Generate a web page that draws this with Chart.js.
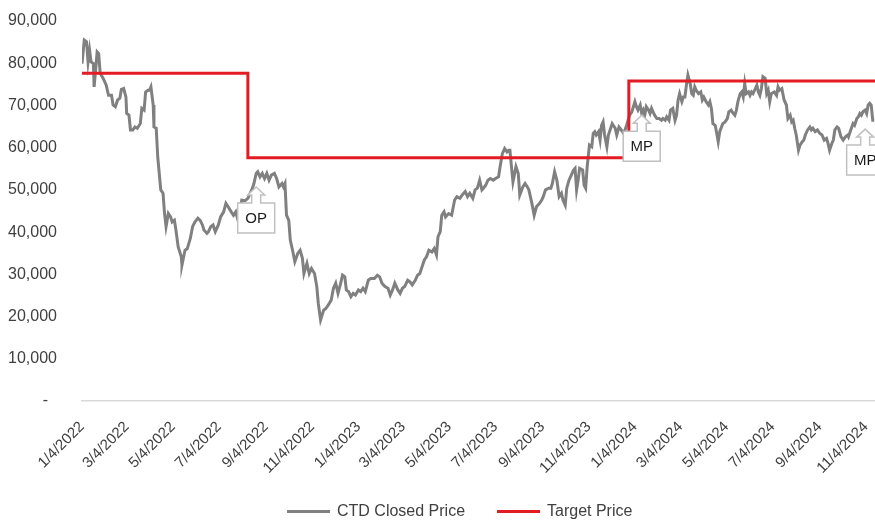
<!DOCTYPE html>
<html>
<head>
<meta charset="utf-8">
<script src="https://cdn.jsdelivr.net/npm/chart.js@4.4.1/dist/chart.umd.min.js"></script>
<style>
html,body{margin:0;padding:0;background:#ffffff;}
#wrap{width:875px;height:521px;position:relative;}
</style>
</head>
<body>
<div id="wrap"><canvas id="c" width="875" height="521"></canvas></div>
<script>
// ---------------- DATA ----------------
const startDate = '1/4/2022';            // day 0 of the x axis
const endDay = 1047;                     // last day shown (~11/16/2024)
const xTickLabels = ['1/4/2022','3/4/2022','5/4/2022','7/4/2022','9/4/2022','11/4/2022',
  '1/4/2023','3/4/2023','5/4/2023','7/4/2023','9/4/2023','11/4/2023',
  '1/4/2024','3/4/2024','5/4/2024','7/4/2024','9/4/2024','11/4/2024'];

// CTD closed price: days since 1/4/2022, price (VND)
const priceDays = [0,3,6,8,10,12,15,16,18,20,22,24,28,32,35,39,41,44,47,50,52,55,58,59,62,64,67,70,73,77,79,82,84,87,89,91,94,95,98,100,
104,107,109,111,114,117,119,122,124,127,131,132,136,139,143,146,149,153,156,159,161,165,167,170,173,176,180,183,187,190,
193,197,200,203,206,207,211,215,219,222,225,227,230,232,235,238,241,244,247,250,254,257,260,264,266,268,270,273,275,278,
281,285,288,291,293,297,300,303,307,310,312,315,319,322,325,329,332,335,338,341,344,347,349,352,355,358,361,365,368,371,
374,378,381,386,390,393,396,400,404,407,410,413,417,420,423,426,430,433,436,440,443,446,449,452,455,458,462,465,468,470,
473,475,478,480,484,488,492,495,499,502,506,509,512,516,519,522,525,528,530,533,536,539,543,546,550,552,555,558,561,563,
565,567,569,573,576,578,582,585,588,590,594,597,600,604,607,609,612,616,619,621,624,627,630,633,635,638,640,643,646,649,
651,653,655,657,661,663,665,667,670,673,675,677,679,682,684,686,688,690,693,695,698,700,704,706,709,712,715,717,719,721,
723,726,728,730,732,734,737,739,741,743,745,748,750,752,754,756,759,762,765,767,770,772,775,777,780,783,785,787,789,792,
794,796,798,800,803,805,807,809,811,814,817,819,821,824,827,829,831,833,836,838,840,842,846,849,852,854,857,860,862,864,
866,869,871,873,875,877,880,882,884,886,888,891,893,895,897,899,902,904,906,908,910,914,917,919,921,924,927,930,932,935,
937,939,941,943,946,948,951,953,955,958,961,963,965,968,971,974,977,980,983,985,987,990,992,994,997,999,1002,1005,1008,1011,
1012,1015,1018,1020,1023,1025,1027,1029,1031,1034,1036,1038,1040,1042,1044,1046];
const closedPrices = [79900,85500,85100,80300,83100,80300,79900,74400,78400,82700,82300,77600,76400,74800,72400,72400,70100,69700,71300,71700,73800,74000,72000,68100,67700,64200,64200,64900,64600,65700,69300,68900,73200,73600,73600,74400,70100,64900,64600,57800,
50000,49200,44400,41300,44400,43600,42400,42800,40500,36500,34200,32200,35700,36100,38500,41300,42400,43300,42800,41700,40500,39700,40100,41300,41700,40100,41700,43600,44800,46800,
46000,44800,44000,44800,42800,44400,47600,47400,48000,49200,50400,51500,53900,54300,53100,53900,52700,53900,52300,53500,53900,52700,50700,51500,50700,51500,44000,42800,38100,35700,
33000,35000,35700,33800,30200,32600,30200,31400,30200,27100,23100,19200,21500,21900,22700,23900,26700,27900,25500,27500,29800,29400,26300,25900,24700,25500,25100,26300,25900,26700,
25900,28600,29000,29000,29800,29400,27900,27100,26700,25100,26300,27900,26300,25500,26700,27100,28600,28200,27500,28600,29800,30200,31800,33400,34200,35700,35300,36100,34600,38900,
40100,44000,44800,43600,44400,44000,47600,48400,48000,48800,49600,48400,49200,48000,50000,50400,52300,50000,50400,51100,52300,52700,52300,52700,53100,55500,58600,59800,59000,59400,
59400,55500,51900,55500,53900,48800,50700,51500,50700,50000,46800,44000,46000,46800,47600,48400,50000,50400,50400,51500,54300,52300,48400,49200,47600,46400,50400,52300,53500,54700,
55100,50000,52300,55100,54700,51100,50400,55500,60600,60200,63400,63800,63000,63800,61800,65300,66100,63000,60200,63000,64600,65700,64600,63000,64900,64200,63400,64200,65300,66500,
67700,68500,69700,70900,69700,68900,70100,68100,68900,67700,69700,68900,68100,69300,68500,67700,66900,66900,66500,66900,66500,67300,66500,68900,69300,66500,67700,71300,72800,70900,
72000,72000,74800,77200,75200,72800,72400,74400,73600,72800,73200,71300,72000,70900,70100,70900,69300,65700,65300,63400,61400,63800,65700,66100,66900,68500,68900,68100,67700,68900,
70900,72800,73200,72000,75200,72800,73200,72400,73200,72800,73600,74800,73200,72400,74000,76800,76400,72800,73600,70900,72800,73200,72400,74400,73600,74000,71300,70100,66900,67700,
66100,66500,64600,63000,59400,60600,61400,61800,63000,64200,64900,64200,64600,63800,64200,63400,63000,61800,62200,61000,59400,61000,61800,64200,64900,64600,62600,61800,62600,63000,
62600,64200,65700,65300,66900,67300,68100,67700,68500,68900,68100,70100,70500,70100,66500,66500];

// Target price: day the target was set, target value
const targetDays = [0, 219, 722, 1047];
const targetPrices = [77600, 57600, 75800, 75800];

// Recommendation callouts: label, day, price pointed at
const calloutLabels = ['OP', 'MP', 'MP'];
const calloutDays = [230, 739, 1034];
const calloutPrices = [50700, 67700, 64400];

const seriesNames = ['CTD Closed Price', 'Target Price'];

// ---------------- HELPERS ----------------
function dayOf(label) {
  const p = label.split('/').map(Number);
  const s = startDate.split('/').map(Number);
  return Math.round((Date.UTC(p[2], p[0] - 1, p[1]) - Date.UTC(s[2], s[0] - 1, s[1])) / 86400000);
}
const REG = '"Liberation Sans", Arial, sans-serif';
const TEXT = '#404040';

const calloutPlugin = {
  id: 'callouts',
  afterDatasetsDraw(chart) {
    const ctx = chart.ctx, xs = chart.scales.x, ys = chart.scales.y;
    ctx.save();
    calloutLabels.forEach((lbl, i) => {
      const px = xs.getPixelForValue(calloutDays[i]);
      const py = ys.getPixelForValue(calloutPrices[i]);
      const hw = 18.5, head = 8.5, neck = 4.5;
      ctx.beginPath();
      ctx.moveTo(px, py);
      ctx.lineTo(px + head, py + 8);
      ctx.lineTo(px + neck, py + 8);
      ctx.lineTo(px + neck, py + 16);
      ctx.lineTo(px + hw, py + 16);
      ctx.lineTo(px + hw, py + 46);
      ctx.lineTo(px - hw, py + 46);
      ctx.lineTo(px - hw, py + 16);
      ctx.lineTo(px - neck, py + 16);
      ctx.lineTo(px - neck, py + 8);
      ctx.lineTo(px - head, py + 8);
      ctx.closePath();
      ctx.fillStyle = '#ffffff';
      ctx.fill();
      ctx.strokeStyle = '#c0c0c0';
      ctx.lineWidth = 1.5;
      ctx.stroke();
      ctx.fillStyle = '#1a1a1a';
      ctx.font = '15px ' + REG;
      ctx.textAlign = 'center';
      ctx.textBaseline = 'middle';
      ctx.fillText(lbl, px, py + 31.5);
    });
    ctx.restore();
  }
};

const legendPlugin = {
  id: 'bottomLegend',
  afterDraw(chart) {
    const ctx = chart.ctx;
    ctx.save();
    ctx.font = '16px ' + REG;
    ctx.textBaseline = 'middle';
    ctx.textAlign = 'left';
    let x = 287;
    const y = 511.5;
    chart.data.datasets.forEach(ds => {
      ctx.strokeStyle = ds.borderColor;
      ctx.lineWidth = 3;
      ctx.beginPath();
      ctx.moveTo(x, y);
      ctx.lineTo(x + 43, y);
      ctx.stroke();
      x += 50;
      ctx.fillStyle = TEXT;
      ctx.fillText(ds.label, x, y);
      x += ctx.measureText(ds.label).width + 32;
    });
    ctx.restore();
  }
};

new Chart(document.getElementById('c'), {
  type: 'line',
  data: {
    datasets: [
      {
        label: seriesNames[0],
        data: priceDays.map((d, i) => ({ x: d, y: closedPrices[i] })),
        borderColor: '#808080',
        backgroundColor: '#808080',
        borderWidth: 3,
        pointRadius: 0,
        tension: 0,
        order: 2
      },
      {
        label: seriesNames[1],
        data: targetDays.map((d, i) => ({ x: d, y: targetPrices[i] })),
        borderColor: '#e31b23',
        backgroundColor: '#e31b23',
        borderWidth: 3,
        pointRadius: 0,
        stepped: 'before',
        order: 1
      }
    ]
  },
  options: {
    responsive: false,
    animation: false,
    devicePixelRatio: 1,
    layout: { padding: { top: 21, right: 0, bottom: 0, left: 0 } },
    plugins: { legend: { display: false }, tooltip: { enabled: false } },
    scales: {
      x: {
        type: 'linear',
        min: 0,
        max: endDay,
        grid: { display: false, drawTicks: false },
        border: { display: true, color: '#d9d9d9', width: 1.5 },
        afterBuildTicks: s => { s.ticks = xTickLabels.map(l => ({ value: dayOf(l) })); },
        afterFit: s => { s.height = 120; s.paddingLeft = 0; s.paddingRight = 0; },
        ticks: {
          autoSkip: false,
          minRotation: 45,
          maxRotation: 45,
          padding: 17,
          color: TEXT,
          font: { family: REG, size: 15 },
          callback: (v, i) => xTickLabels[i]
        }
      },
      y: {
        min: 0,
        max: 90000,
        grid: { display: false, drawTicks: false },
        border: { display: false },
        afterFit: s => { s.width = 82; s.paddingTop = 0; s.paddingBottom = 0; },
        ticks: {
          stepSize: 10000,
          padding: 25,
          color: TEXT,
          font: { family: REG, size: 16 },
          callback: v => v === 0 ? '-  ' : v.toLocaleString('en-US')
        }
      }
    }
  },
  plugins: [calloutPlugin, legendPlugin]
});
</script>
</body>
</html>
